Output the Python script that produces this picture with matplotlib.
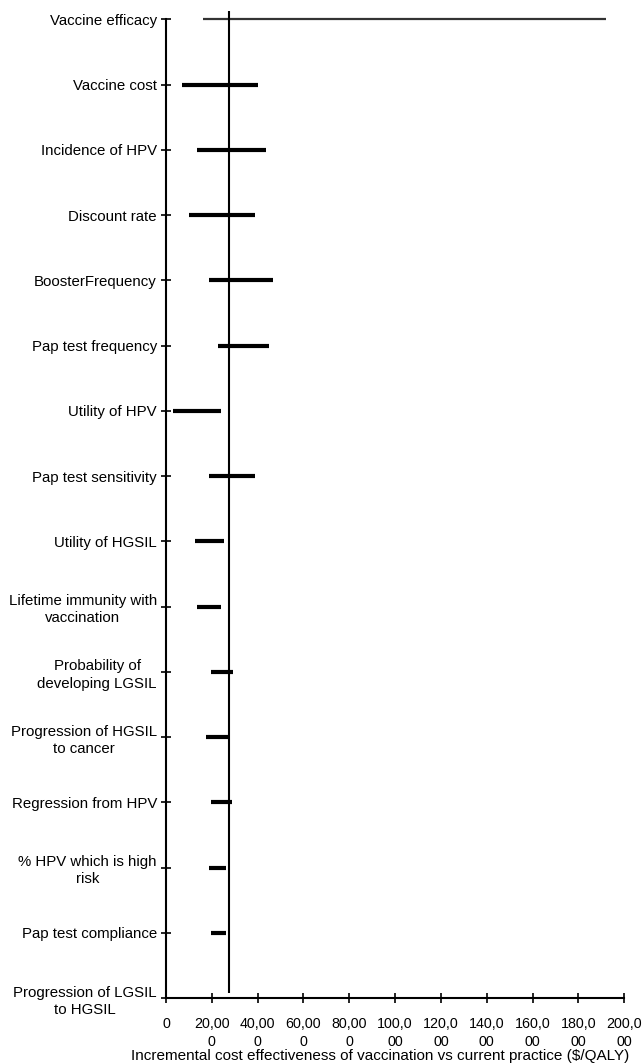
import numpy as np
import matplotlib.pyplot as plt

plt.rcParams['font.family'] = ['Liberation Sans', 'DejaVu Sans']

# Parámetros (top to bottom)
parametros = [
    "Vaccine efficacy",
    "Vaccine cost",
    "Incidence of HPV",
    "Discount rate",
    "BoosterFrequency",
    "Pap test frequency",
    "Utility of HPV",
    "Pap test sensitivity",
    "Utility of HGSIL",
    "Lifetime immunity with\nvaccination",
    "Probability of\ndeveloping LGSIL",
    "Progression of HGSIL\nto cancer",
    "Regression from HPV",
    "% HPV which is high\nrisk",
    "Pap test compliance",
    "Progression of LGSIL\nto HGSIL",
]
icer_bajo = [16300, 7100, 13400, 10200, 18900, 22800, 3200, 18900, 12700,
             13400, 19600, 17300, 19600, 18800, 19600, 27500]
icer_alto = [192000, 40300, 43500, 38800, 46600, 45100, 23900, 38800, 25400,
             23900, 29100, 27500, 28700, 26200, 26200, 27500]
icer_base = 27500

xticks = np.arange(0, 200001, 20000)
xtick_labels = ["0", "20,00\n0", "40,00\n0", "60,00\n0", "80,00\n0", "100,0\n00",
                "120,0\n00", "140,0\n00", "160,0\n00", "180,0\n00", "200,0\n00"]

W, H = 643, 1063
fig = plt.figure(figsize=(W / 100, H / 100), dpi=100)
ax = fig.add_axes([166 / W, (H - 998) / H, (624.3 - 166) / W, (998 - 19.3) / H])

n = len(parametros)
ypos = np.arange(n)[::-1]

for i in range(n):
    lw = 1.6 if i == 0 else 3.0
    col = '#333333' if i == 0 else 'black'
    ax.plot([icer_bajo[i], icer_alto[i]], [ypos[i], ypos[i]], color=col, lw=lw,
            solid_capstyle='butt', clip_on=False, zorder=3)

# linea de referencia (caso base)
ax.vlines(icer_base, 0.08, n - 1 + 0.12, color='black', lw=1.5, clip_on=False, zorder=4)

ax.set_xlim(0, 200000)
ax.set_ylim(0, n - 1)
ax.set_yticks(ypos)
ax.set_yticklabels(parametros, multialignment='center', linespacing=1.3, fontsize=10.8)
ax.set_xticks(xticks)
ax.set_xticklabels(xtick_labels, linespacing=1.35, fontsize=10.3)

ax.spines['top'].set_visible(False)
ax.spines['right'].set_visible(False)
for s in ['left', 'bottom']:
    ax.spines[s].set_linewidth(1.5)
ax.tick_params(axis='both', direction='inout', length=7, width=1.2)
ax.tick_params(axis='y', pad=3)
ax.tick_params(axis='x', pad=10)

fig.text(380 / W, 1 - 1056 / H, "Incremental cost effectiveness of vaccination vs current practice ($/QALY)",
         ha='center', va='center', fontsize=11)

fig.savefig('out.png', dpi=100)
